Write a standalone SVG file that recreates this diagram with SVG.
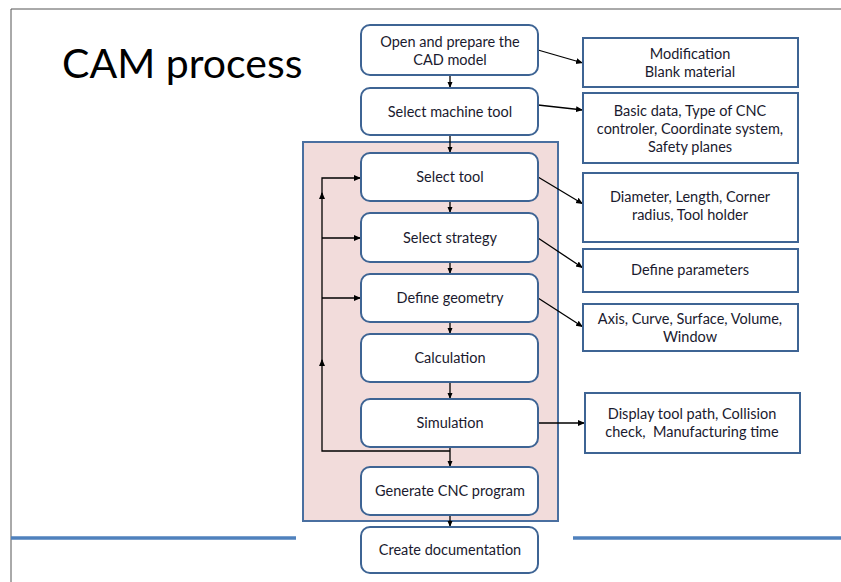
<svg xmlns="http://www.w3.org/2000/svg" width="841" height="582" viewBox="0 0 841 582">
<defs>
<marker id="ah" markerWidth="8" markerHeight="8" refX="7" refY="4" orient="auto" markerUnits="userSpaceOnUse">
<path d="M0,1 L7,4 L0,7 Z" fill="#000"/>
</marker>
<marker id="ahs" markerWidth="6" markerHeight="6" refX="6" refY="3" orient="auto" markerUnits="userSpaceOnUse">
<path d="M0,0.5 L6,3 L0,5.5 Z" fill="#000"/>
</marker>
<marker id="mid" markerWidth="8" markerHeight="8" refX="4" refY="4" orient="auto" markerUnits="userSpaceOnUse">
<path d="M0,1 L7,4 L0,7 Z" fill="#000"/>
</marker>
</defs>
<style>
.node{fill:#fff;stroke:#3e6494;stroke-width:2}
.info{fill:#fff;stroke:#3e6494;stroke-width:2}
.t{font-family:Lato,"Open Sans",sans-serif;font-size:14.5px;fill:#1a1a2e;text-anchor:middle;white-space:pre}
.c{stroke:#000;stroke-width:1.3;fill:none}
</style>
<rect x="0" y="0" width="841" height="582" fill="#fff"/>
<line x1="11" y1="9" x2="841" y2="9" stroke="#555" stroke-width="1"/>
<line x1="11" y1="9" x2="11" y2="582" stroke="#555" stroke-width="1"/>
<line x1="11" y1="538" x2="296" y2="538" stroke="#4f81bd" stroke-width="3.5"/>
<line x1="573" y1="538" x2="841" y2="538" stroke="#4f81bd" stroke-width="3.5"/>
<text x="62" y="78" font-family="Lato,'Open Sans',sans-serif" font-size="41" fill="#000">CAM process</text>
<g id="container"><rect x="303" y="142" width="255" height="379" fill="#f2dcdb" stroke="#4a6fa0" stroke-width="2"/></g>
<g id="connectors">
<line class="c" x1="450" y1="75" x2="450" y2="88" marker-end="url(#ahs)"/>
<line class="c" x1="450" y1="135" x2="450" y2="153" marker-end="url(#ahs)"/>
<line class="c" x1="450" y1="201" x2="450" y2="213" marker-end="url(#ahs)"/>
<line class="c" x1="450" y1="262" x2="450" y2="274" marker-end="url(#ahs)"/>
<line class="c" x1="450" y1="322" x2="450" y2="334" marker-end="url(#ahs)"/>
<line class="c" x1="450" y1="382" x2="450" y2="399" marker-end="url(#ahs)"/>
<line class="c" x1="450" y1="447" x2="450" y2="467" marker-end="url(#ahs)"/>
<line class="c" x1="450" y1="515" x2="450" y2="527" marker-end="url(#ahs)"/>
<path class="c" d="M450,451 L322,451 L322,360"/>
<path class="c" d="M322,362 L322,193" marker-start="url(#mid)" />
<path class="c" d="M322,195 L322,178 L361,178" marker-start="url(#mid)" marker-end="url(#ah)"/>
<line class="c" x1="322" y1="238" x2="361" y2="238" marker-end="url(#ah)"/>
<line class="c" x1="322" y1="298" x2="361" y2="298" marker-end="url(#ah)"/>
<line class="c" x1="538" y1="50" x2="583" y2="63" marker-end="url(#ah)"/>
<line class="c" x1="538" y1="105" x2="583" y2="110" marker-end="url(#ah)"/>
<line class="c" x1="538" y1="177" x2="583" y2="204" marker-end="url(#ah)"/>
<line class="c" x1="538" y1="238" x2="583" y2="268" marker-end="url(#ah)"/>
<line class="c" x1="538" y1="298" x2="583" y2="327" marker-end="url(#ah)"/>
<line class="c" x1="538" y1="423" x2="585" y2="423" marker-end="url(#ah)"/>
</g>
<g id="n1"><rect class="node" x="361" y="25" width="177" height="50" rx="9"/><text class="t" x="450" y="47">Open and prepare the</text><text class="t" x="450" y="65">CAD model</text></g>
<g id="n2"><rect class="node" x="361" y="88" width="177" height="47" rx="9"/><text class="t" x="450" y="117">Select machine tool</text></g>
<g id="n3"><rect class="node" x="361" y="153" width="177" height="48" rx="9"/><text class="t" x="450" y="182">Select tool</text></g>
<g id="n4"><rect class="node" x="361" y="213" width="177" height="49" rx="9"/><text class="t" x="450" y="243">Select strategy</text></g>
<g id="n5"><rect class="node" x="361" y="274" width="177" height="48" rx="9"/><text class="t" x="450" y="303">Define geometry</text></g>
<g id="n6"><rect class="node" x="361" y="334" width="177" height="48" rx="9"/><text class="t" x="450" y="363">Calculation</text></g>
<g id="n7"><rect class="node" x="361" y="399" width="177" height="48" rx="9"/><text class="t" x="450" y="428">Simulation</text></g>
<g id="n8"><rect class="node" x="361" y="467" width="177" height="48" rx="9"/><text class="t" x="450" y="496">Generate CNC program</text></g>
<g id="n9"><rect class="node" x="361" y="527" width="177" height="46" rx="9"/><text class="t" x="450" y="555">Create documentation</text></g>
<g id="i1"><rect class="info" x="583" y="38" width="215" height="49"/><text class="t" x="690" y="59">Modification</text><text class="t" x="690" y="77">Blank material</text></g>
<g id="i2"><rect class="info" x="583" y="93" width="215" height="70"/><text class="t" x="690" y="116">Basic data, Type of CNC</text><text class="t" x="690" y="134">controler, Coordinate system,</text><text class="t" x="690" y="152">Safety planes</text></g>
<g id="i3"><rect class="info" x="583" y="173" width="215" height="69"/><text class="t" x="690" y="202">Diameter, Length, Corner</text><text class="t" x="690" y="220">radius, Tool holder</text></g>
<g id="i4"><rect class="info" x="583" y="249" width="215" height="43"/><text class="t" x="690" y="275">Define parameters</text></g>
<g id="i5"><rect class="info" x="583" y="304" width="215" height="47"/><text class="t" x="690" y="324">Axis, Curve, Surface, Volume,</text><text class="t" x="690" y="342">Window</text></g>
<g id="i6"><rect class="info" x="585" y="393" width="215" height="60"/><text class="t" x="692" y="419">Display tool path, Collision</text><text class="t" x="692" y="437">check,  Manufacturing time</text></g>
</svg>
